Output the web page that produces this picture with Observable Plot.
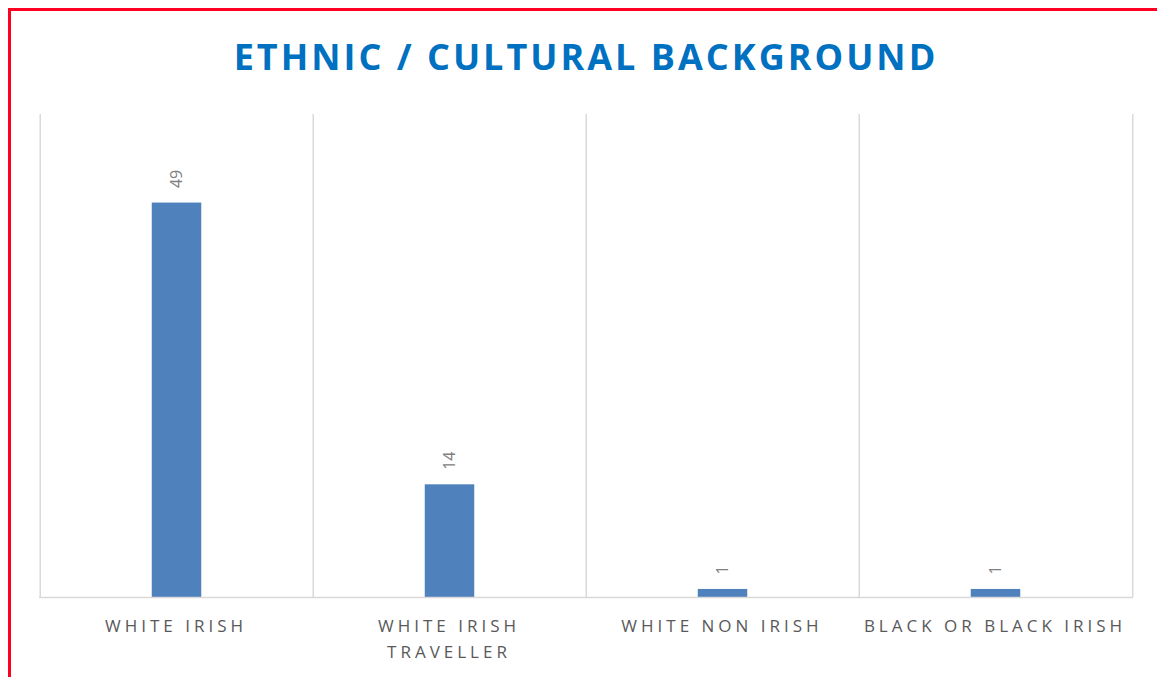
<!DOCTYPE html>
<html><head><meta charset="utf-8">
<script src="https://cdn.jsdelivr.net/npm/d3@7"></script>
<script src="https://cdn.jsdelivr.net/npm/@observablehq/plot@0.6"></script>
<style>
body{margin:0;background:#fff;}
#wrap{position:relative;width:1157px;height:677px;overflow:hidden;font-family:"Open Sans",sans-serif;background:#fff;}
#border{position:absolute;left:8px;top:8px;width:1300px;height:800px;border-left:3px solid #ff0022;border-top:3px solid #ff0022;}
#title{position:absolute;left:0;top:32px;width:1172px;text-align:center;color:#0070c0;font-weight:700;font-size:36px;letter-spacing:3px;white-space:nowrap;}
#chart{position:absolute;left:0;top:100px;}
</style></head>
<body>
<div id="wrap">
  <div id="border"></div>
  <div id="title">ETHNIC / CULTURAL BACKGROUND</div>
  <div id="chart"></div>
</div>
<script>
const categories = ["White Irish", "White Irish Traveller", "White Non Irish", "Black or Black Irish"];
const values = [49, 14, 1, 1];
const tickLabels = ["WHITE IRISH", "WHITE IRISH\nTRAVELLER", "WHITE NON IRISH", "BLACK OR BLACK IRISH"];

const data = categories.map((c, i) => ({category: c, value: values[i], label: tickLabels[i]}));

const W = 1157, H = 577, mL = 39, mR = 24, mT = 14, mB = 80;
const bw = (W - mL - mR) / categories.length;
const inset = (bw - 50) / 2;

const chart = Plot.plot({
  width: W,
  height: H,
  marginLeft: mL,
  marginRight: mR,
  marginTop: mT,
  marginBottom: mB,
  style: {fontFamily: "'Open Sans', sans-serif", background: "transparent"},
  x: {domain: categories, padding: 0, axis: null},
  y: {domain: [0, 60], axis: null},
  marks: [
    Plot.ruleX(categories, {x: d => d, dx: -bw / 2, stroke: "#d9d9d9", strokeWidth: 1.5}),
    Plot.ruleX([categories[categories.length - 1]], {x: d => d, dx: bw / 2, stroke: "#d9d9d9", strokeWidth: 1.5}),
    Plot.barY(data, {x: "category", y: "value", fill: "#4f81bd", insetLeft: inset, insetRight: inset}),
    Plot.ruleY([0], {stroke: "#d9d9d9", strokeWidth: 1.5}),
    Plot.text(data, {x: "category", y: "value", text: d => String(d.value), rotate: -90, textAnchor: "start", lineAnchor: "middle", dy: -15, fill: "#808080", fontSize: 16}),
    Plot.text(data, {x: "category", y: 0, text: "label", lineAnchor: "top", dy: 16, dx: -1, fill: "#595959", fontSize: 17, lineHeight: 1.53})
  ]
});
const textGroups = chart.querySelectorAll('g[aria-label="text"]');
if (textGroups.length) textGroups[textGroups.length - 1].style.letterSpacing = "4px";
document.getElementById("chart").appendChild(chart);
</script>
</body></html>
